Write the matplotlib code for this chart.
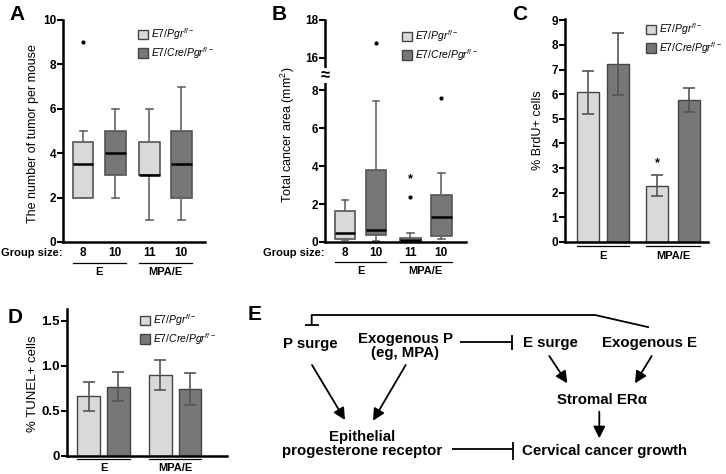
import numpy as np
import matplotlib
matplotlib.use("Agg")
import matplotlib.pyplot as plt
from matplotlib.patches import Patch
from matplotlib.transforms import blended_transform_factory

plt.rcParams['font.family'] = ['Liberation Sans', 'DejaVu Sans']
plt.rcParams['mathtext.fontset'] = 'custom'
plt.rcParams['mathtext.rm'] = 'Liberation Sans'
plt.rcParams['mathtext.it'] = 'Liberation Sans:italic'
plt.rcParams['mathtext.bf'] = 'Liberation Sans:bold'

# ====== data ======
groups = ["E", "MPA/E"]
genotypes = [r"$\mathit{E7/Pgr}^{f/-}$", r"$\mathit{E7/Cre/Pgr}^{f/-}$"]
light, dark = "#d9d9d9", "#777777"
box_colors = [light, dark, light, dark]

# A: number of tumors per mouse (E-Pgr, E-Cre, MPA-Pgr, MPA-Cre)
a_med = [3.5, 4, 3, 3.5]
a_q1 = [2, 3, 3, 2]
a_q3 = [4.5, 5, 4.5, 5]
a_lo = [2, 2, 1, 1]
a_hi = [5, 6, 6, 7]
a_fliers = [[9], [], [], []]
a_n = [8, 10, 11, 10]

# B: total cancer area (mm2)
b_med = [0.5, 0.65, 0.12, 1.3]
b_q1 = [0.18, 0.39, 0.04, 0.33]
b_q3 = [1.61, 3.79, 0.23, 2.49]
b_lo = [0.09, 0.05, 0.0, 0.16]
b_hi = [2.19, 7.44, 0.47, 3.63]
b_fliers = [[], [16.8], [2.37], [7.56]]
b_n = [8, 10, 11, 10]

# C: % BrdU+ cells
c_mean = [6.07, 7.21, 2.29, 5.76]
c_err = [0.87, 1.26, 0.44, 0.47]

# D: % TUNEL+ cells
d_mean = [0.66, 0.77, 0.90, 0.74]
d_err = [0.165, 0.165, 0.17, 0.175]

W, H = 726, 474
fig = plt.figure(figsize=(W / 100, H / 100), dpi=100)

# full-figure axes in pixel coords for letters and the diagram
dax = fig.add_axes([0, 0, 1, 1])
dax.set_xlim(0, W)
dax.set_ylim(H, 0)
dax.axis('off')


def make_ax(l, t, r, b):
    return fig.add_axes([l / W, 1 - b / H, (r - l) / W, (b - t) / H])


def style(ax, ticks, labels=None, size=8.5):
    for s in ['top', 'right']:
        ax.spines[s].set_visible(False)
    for s in ['left', 'bottom']:
        ax.spines[s].set_linewidth(1.8)
    ax.set_xticks([])
    ax.set_yticks(ticks, labels=labels if labels else [str(t) for t in ticks],
                  fontweight='bold', fontsize=size)
    ax.tick_params(axis='y', length=4, width=1.5, pad=1)


def group_marks(ax, pos, w, y_line, y_text, ns=None, y_n=None):
    tr = blended_transform_factory(ax.transData, fig.transFigure)
    for i, g in enumerate(groups):
        x0 = pos[2 * i] - w / 2
        x1 = pos[2 * i + 1] + w / 2
        ax.plot([x0, x1], [1 - y_line / H] * 2, color='black', lw=0.9,
                transform=tr, clip_on=False)
        ax.text((x0 + x1) / 2, 1 - y_text / H, g, transform=tr, ha='center',
                va='center', fontsize=8, fontweight='bold')
    if ns:
        for p, n in zip(pos, ns):
            ax.text(p, 1 - y_n / H, str(n), transform=tr, ha='center',
                    va='center', fontsize=8.5, fontweight='bold')


def legend(ax, x, y):
    handles = [Patch(facecolor=c, edgecolor='#444444', lw=1) for c in (light, dark)]
    ax.legend(handles, genotypes, loc='upper left',
              bbox_to_anchor=(x / W, 1 - y / H), bbox_transform=fig.transFigure,
              frameon=False, fontsize=7.5, handlelength=1.0, handleheight=1.0,
              handletextpad=0.25, labelspacing=0.3, borderpad=0, borderaxespad=0)


def boxes(ax, pos, w, med, q1, q3, lo, hi, fl):
    stats = [dict(med=m, q1=a, q3=b, whislo=l, whishi=h, fliers=f)
             for m, a, b, l, h, f in zip(med, q1, q3, lo, hi, fl)]
    bp = ax.bxp(stats, positions=pos, widths=w, patch_artist=True,
                capwidths=0.22,
                boxprops=dict(edgecolor='#555555', linewidth=1.2),
                medianprops=dict(color='black', linewidth=1.8),
                whiskerprops=dict(color='#666666', linewidth=1.2),
                capprops=dict(color='#666666', linewidth=1.2),
                flierprops=dict(marker='o', markersize=2, markerfacecolor='black',
                                markeredgecolor='black'))
    for patch, c in zip(bp['boxes'], box_colors):
        patch.set_facecolor(c)


# ====== A ======
axA = make_ax(63, 20, 205, 242)
posA = [1, 2, 3.06, 4.06]
boxes(axA, posA, 0.65, a_med, a_q1, a_q3, a_lo, a_hi, a_fliers)
axA.set_xlim(0.375, 4.8)
axA.set_ylim(0, 10)
style(axA, [0, 2, 4, 6, 8, 10])
axA.set_ylabel("The number of tumor per mouse", fontsize=9)
axA.yaxis.set_label_coords(-0.169, 0.49)
legend(axA, 138, 26)
group_marks(axA, posA, 0.65, 263, 272, a_n, 253)
fig.text(1 / W, 1 - 253 / H, "Group size:", ha='left', va='center', fontsize=8,
         fontweight='bold')

# ====== B (broken y axis) ======
knots = [-100, 0, 8.74, 15.06, 18, 100]
mapped = [-100, 0, 8.74, 8.75, 11.69, 93.69]
axB = make_ax(325, 20, 466, 242)
axB.set_yscale('function', functions=(lambda y: np.interp(y, knots, mapped),
                                      lambda v: np.interp(v, mapped, knots)))
posB = [1, 2, 3.1, 4.1]
boxes(axB, posB, 0.67, b_med, b_q1, b_q3, b_lo, b_hi, b_fliers)
axB.set_xlim(0.355, 4.9)
axB.set_ylim(0, 18)
style(axB, [0, 2, 4, 6, 8, 16, 18])
axB.set_ylabel("Total cancer area (mm$^2$)", fontsize=9)
axB.yaxis.set_label_coords(-0.2, 0.484)
axB.text(0, 12, "\u2248", transform=blended_transform_factory(axB.transAxes, axB.transData),
         ha='center', va='center', fontsize=12, fontweight='bold',
         bbox=dict(facecolor='white', edgecolor='none', pad=0), clip_on=False)
axB.text(posB[2], 3.3, "*", ha='center', va='center', fontsize=9, fontweight='bold')
legend(axB, 402, 28)
group_marks(axB, posB, 0.67, 262, 271, b_n, 253)
fig.text(263 / W, 1 - 253 / H, "Group size:", ha='left', va='center', fontsize=8,
         fontweight='bold')

# ====== C ======
axC = make_ax(565, 19, 708, 242)
posC = [1, 1.97, 3.23, 4.26]
axC.bar(posC, c_mean, width=0.7, color=box_colors, edgecolor='#444444', linewidth=1,
        yerr=c_err, error_kw=dict(ecolor='#555555', elinewidth=1.2, capsize=4,
                                  capthick=1.2))
axC.text(posC[2], 3.2, "*", ha='center', va='center', fontsize=9, fontweight='bold')
axC.set_xlim(0.26, 4.87)
axC.set_ylim(0, 9.05)
style(axC, list(range(10)))
axC.set_ylabel("% BrdU+ cells", fontsize=9)
axC.yaxis.set_label_coords(-0.147, 0.5)
legend(axC, 646, 21)
group_marks(axC, posC, 0.7, 246, 256)

# ====== D ======
axD = make_ax(67, 309, 227, 456)
posD = [1, 2, 3.4, 4.4]
axD.bar(posD, d_mean, width=0.75, color=box_colors, edgecolor='#444444', linewidth=1,
        yerr=d_err, error_kw=dict(ecolor='#555555', elinewidth=1.2, capsize=4,
                                  capthick=1.2))
axD.set_xlim(0.28, 5.63)
axD.set_ylim(0, 1.63)
style(axD, [0, 0.5, 1.0, 1.5], ["0", "0.5", "1.0", "1.5"], size=9.5)
axD.set_ylabel("% TUNEL+ cells", fontsize=9.5)
axD.yaxis.set_label_coords(-0.175, 0.49)
legend(axD, 140, 312)
group_marks(axD, posD, 0.75, 459, 468)

# ====== panel letters ======
for letter, x, y in [("A", 9, 20), ("B", 272, 20), ("C", 512, 20), ("D", 8, 323),
                     ("E", 248, 320)]:
    dax.text(x, y, letter, fontsize=15, fontweight='bold', va='baseline', ha='left')

# ====== E: diagram ======
nodes = [
    ("P surge", 310, 347.7),
    ("Exogenous P\n(eg, MPA)", 405, 356.7),
    ("E surge", 550, 346.7),
    ("Exogenous E", 649.5, 346.7),
    ("Stromal ER\u03b1", 602, 404),
    ("Epithelial\nprogesterone receptor", 362, 455),
    ("Cervical cancer growth", 604, 455),
]
for txt, x, y in nodes:
    dax.text(x, y, txt, ha='center', va='baseline', fontsize=10.8, fontweight='bold',
             linespacing=1.0, multialignment='center')

arrows = [((312, 365), (345, 420)), ((405.7, 365), (373, 420.7)),
          ((549.3, 356), (567.3, 383.3)), ((651.7, 356), (635, 383.3)),
          ((599.3, 411.7), (599.3, 438.3))]
for start, end in arrows:
    dax.annotate("", xy=end, xytext=start,
                 arrowprops=dict(arrowstyle='-|>,head_length=0.7,head_width=0.35',
                                 color='black', lw=1.3, shrinkA=0, shrinkB=0,
                                 mutation_scale=10))

lk = dict(color='black', lw=1.3, solid_capstyle='butt')
# E -> P surge inhibition
dax.plot([649, 595, 311.7, 311.7], [327.3, 315, 315, 325], **lk)
dax.plot([305, 319], [325, 325], **lk)
# exogenous P -| E surge
dax.plot([460, 511.7], [342.3, 342.3], **lk)
dax.plot([511.7, 511.7], [335, 350], **lk)
# epithelial PR -| cervical cancer growth
dax.plot([452.3, 513.3], [449, 449], **lk)
dax.plot([513.3, 513.3], [441.7, 460], **lk)

fig.savefig("out.png", dpi=100)
